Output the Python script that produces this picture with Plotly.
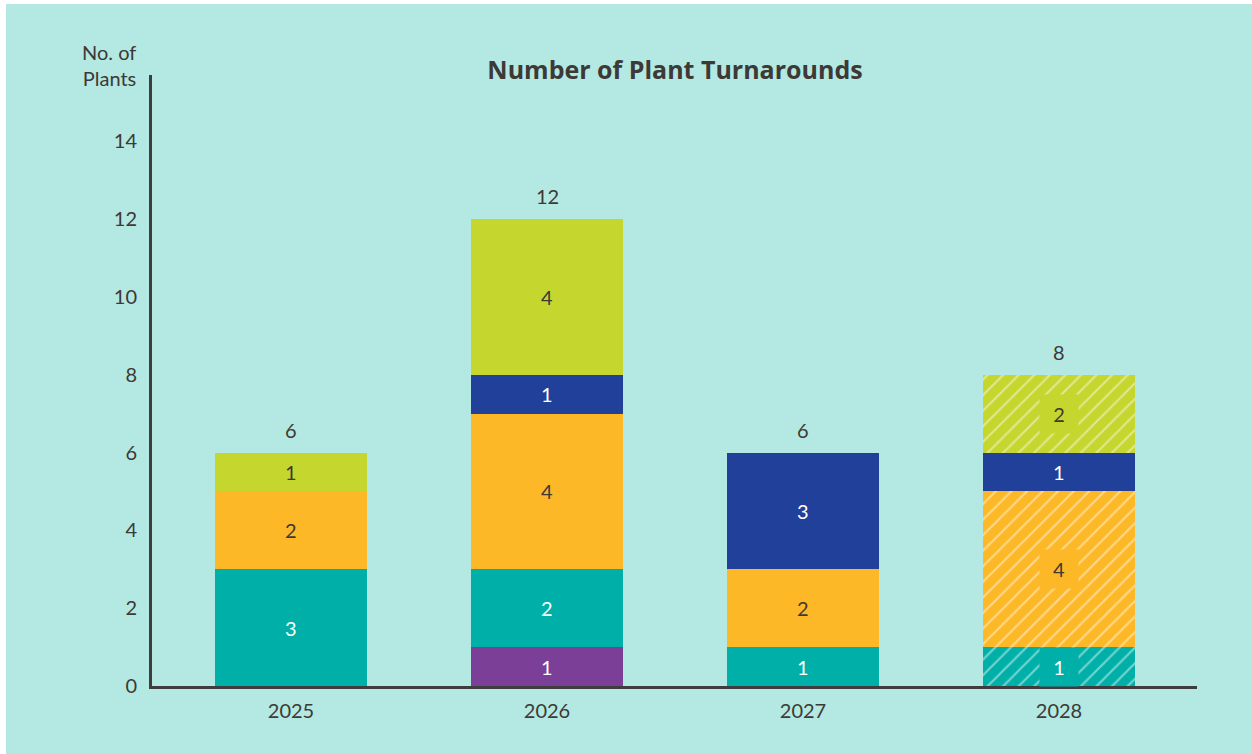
import plotly.graph_objects as go

years = ["2025", "2026", "2027", "2028"]
series_names = ["Purple", "Teal", "Orange", "Blue", "Lime"]
purple = [0, 1, 0, 0]
teal = [3, 2, 1, 1]
orange = [2, 4, 2, 4]
blue = [0, 1, 3, 1]
lime = [1, 4, 0, 2]
hatched_2028 = [False, True, True, False, True]  # per series, for 2028 only

colors = ["#7b3f98", "#00b0a8", "#fdb827", "#21409a", "#c5d62f"]
text_colors = ["white", "white", "#3d3935", "white", "#3d3935"]
values = [purple, teal, orange, blue, lime]

BG = "#b3e8e3"
DARK = "#3d3935"
FONT = "Lato"
W, H = 1246, 750
L, R, T, B = 146, 55, 71, 68
PW, PH = W - L - R, H - T - B

fig = go.Figure()
for i, (name, vals) in enumerate(zip(series_names, values)):
    shapes = ["/" if (j == 3 and hatched_2028[i]) else "" for j in range(len(years))]
    fig.add_trace(go.Bar(
        x=years, y=vals, name=name,
        marker=dict(color=colors[i], line=dict(width=0),
                    pattern=dict(shape=shapes, fgcolor="white", fgopacity=0.45,
                                 size=11, solidity=0.2)),
        width=0.594, showlegend=False, hoverinfo="skip",
    ))

annotations = []
for j, yr in enumerate(years):
    base = 0
    for i, vals in enumerate(values):
        v = vals[j]
        if v > 0:
            hatched = (j == 3 and hatched_2028[i])
            ann = dict(x=j, y=base + v / 2, text=str(v), showarrow=False,
                       font=dict(size=20, color=text_colors[i], family=FONT),
                       xref="x", yref="y")
            if hatched:
                ann.update(bgcolor=colors[i], width=36, height=36)
            annotations.append(ann)
        base += v
    annotations.append(dict(x=j, y=base, text=str(base), showarrow=False,
                            yshift=23, font=dict(size=20, color=DARK, family=FONT),
                            xref="x", yref="y"))

# "No. of Plants" label, centred at page pixel y=65 (figure y=61)
annotations.append(dict(x=-14 / PW, y=(H - B - 61) / PH, xref="paper", yref="paper",
                        xanchor="right", yanchor="middle", align="right",
                        text="No. of<br>Plants", showarrow=False,
                        font=dict(size=20, color=DARK, family=FONT)))

fig.update_layout(
    barmode="stack",
    width=W, height=H,
    margin=dict(l=L, r=R, t=T, b=B),
    paper_bgcolor=BG, plot_bgcolor=BG,
    title=dict(text="<b>Number of Plant Turnarounds</b>", x=(675 - 152) / PW, xref="paper",
               xanchor="center", y=1 - 66 / H, yanchor="middle",
               font=dict(size=25, color=DARK, family="Open Sans")),
    annotations=annotations,
    font=dict(family=FONT, color=DARK),
)
fig.update_xaxes(type="category", range=[-0.543, 3.539], showline=True, linecolor="#3d3d3d",
                 linewidth=3, showgrid=False, ticks="", ticklabelstandoff=5,
                 tickfont=dict(size=20, color=DARK, family=FONT), zeroline=False)
fig.update_yaxes(range=[0, 15.7], dtick=2, showline=True, linecolor="#3d3d3d", linewidth=3,
                 showgrid=False, ticks="outside", ticklen=8, tickcolor="rgba(0,0,0,0)",
                 tickfont=dict(size=20, color=DARK, family=FONT), zeroline=False)

fig.write_html("out.html",
               post_script="document.body.style.margin='4px 0 0 6px';")
